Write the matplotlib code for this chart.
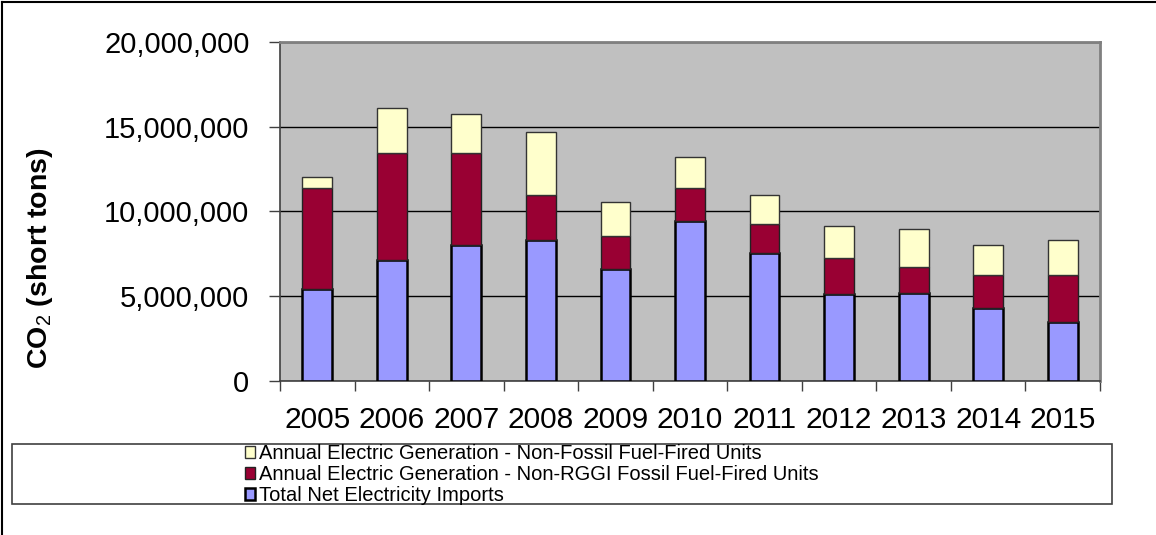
import matplotlib
matplotlib.use('Agg')
import matplotlib.pyplot as plt
from matplotlib.patches import Rectangle, Patch
from matplotlib.lines import Line2D
from matplotlib.ticker import FuncFormatter, MultipleLocator
import numpy as np

plt.rcParams['font.family'] = ['Liberation Sans', 'DejaVu Sans']
plt.rcParams['mathtext.fontset'] = 'custom'
plt.rcParams['mathtext.rm'] = 'Liberation Sans'
plt.rcParams['mathtext.bf'] = 'Liberation Sans:bold'

years = ['2005', '2006', '2007', '2008', '2009', '2010',
         '2011', '2012', '2013', '2014', '2015']
# short tons of CO2, by source
imports = [5.40e6, 7.11e6, 8.01e6, 8.29e6, 6.62e6, 9.42e6,
           7.54e6, 5.15e6, 5.18e6, 4.30e6, 3.50e6]
non_rggi_fossil = [5.97e6, 6.36e6, 5.46e6, 2.71e6, 1.94e6, 1.99e6,
                   1.71e6, 2.08e6, 1.53e6, 1.98e6, 2.78e6]
non_fossil = [0.64e6, 2.65e6, 2.30e6, 3.68e6, 2.00e6, 1.82e6,
              1.75e6, 1.94e6, 2.24e6, 1.73e6, 2.05e6]
labels = ['Total Net Electricity Imports',
          'Annual Electric Generation - Non-RGGI Fossil Fuel-Fired Units',
          'Annual Electric Generation - Non-Fossil Fuel-Fired Units']

c_blue = '#9999FF'
c_red = '#990033'
c_yellow = '#FFFFCC'

fig = plt.figure(figsize=(11.56, 5.35), dpi=100)
ax = fig.add_axes([280 / 1156, 154 / 535, 820 / 1156, 339 / 535])
ax.set_facecolor('#C0C0C0')

x = np.arange(len(years))
w = 0.40
b1 = np.array(imports)
b2 = b1 + np.array(non_rggi_fossil)
ax.bar(x, imports, w, color=c_blue, edgecolor='black', linewidth=1.8, zorder=3)
ax.bar(x, non_rggi_fossil, w, bottom=b1, color=c_red, edgecolor='#222222',
       linewidth=1.0, zorder=3)
ax.bar(x, non_fossil, w, bottom=b2, color=c_yellow, edgecolor='#333333',
       linewidth=1.0, zorder=3)

ax.set_xlim(-0.5, len(years) - 0.5)
ax.set_ylim(0, 20e6)
ax.yaxis.set_major_locator(MultipleLocator(5e6))
ax.yaxis.set_major_formatter(FuncFormatter(lambda v, p: f'{int(v):,}'))
ax.grid(axis='y', color='black', linewidth=1.0, zorder=1)

ax.set_xticks(x)
ax.set_xticklabels(years)
ax.set_xticks(np.arange(-0.5, len(years)), minor=True)
ax.tick_params(axis='x', which='major', length=0, pad=18, labelsize=21.5)
ax.tick_params(axis='x', which='minor', length=7, width=1, color='#404040')
ax.tick_params(axis='y', length=8, width=1, color='#404040', pad=14, labelsize=21)

for s in ['left', 'bottom']:
    ax.spines[s].set_color('#404040')
    ax.spines[s].set_linewidth(1.2)
for s in ['top', 'right']:
    ax.spines[s].set_color('#808080')
    ax.spines[s].set_linewidth(2)

fig.text(40 / 1156, 1 - 258 / 535, r'CO$_2$ (short tons)', rotation=90,
         ha='center', va='center', fontsize=20.5, fontweight='bold')

# legend box across the bottom
fig.add_artist(Rectangle((12 / 1156, 1 - 504 / 535), 1100 / 1156, 60 / 535,
                         transform=fig.transFigure, facecolor='white',
                         edgecolor='#404040', linewidth=1.2))
handles = [Patch(facecolor=c_yellow, edgecolor='#333333', linewidth=1.0),
           Patch(facecolor=c_red, edgecolor='#222222', linewidth=1.0),
           Patch(facecolor=c_blue, edgecolor='black', linewidth=1.8)]
fig.legend(handles, labels[::-1], loc='upper left',
           bbox_to_anchor=(245 / 1156, 1 - 444 / 535), frameon=False,
           fontsize=14.5, handlelength=0.5, handleheight=0.5, handletextpad=0.2,
           labelspacing=0.1, borderpad=0, borderaxespad=0)

# figure border, top and left edges
fig.add_artist(Line2D([0.002, 0.002], [0, 0.996], transform=fig.transFigure,
                      color='black', linewidth=1.5))
fig.add_artist(Line2D([0.002, 1], [0.996, 0.996], transform=fig.transFigure,
                      color='black', linewidth=1.5))

fig.savefig('out.png', dpi=100)
